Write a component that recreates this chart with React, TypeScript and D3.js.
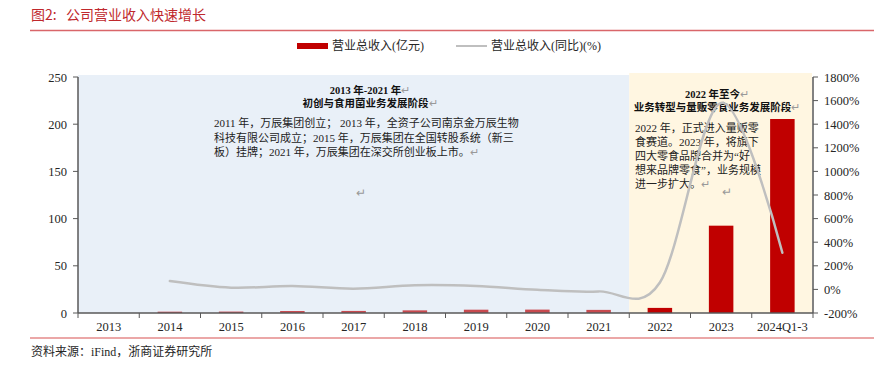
import React from "react";
import * as d3 from "d3";

const categories = ["2013", "2014", "2015", "2016", "2017", "2018", "2019", "2020", "2021", "2022", "2023", "2024Q1-3"];
const revenue = [0, 1.4, 1.5, 2.1, 2.2, 2.8, 3.5, 3.6, 3.3, 5.4, 92.5, 205.5];
const growth: (number | null)[] = [null, 71, 15, 29, 6, 35, 29, -3, -17, 58, 1580, 311];
const leftTicks = [0, 50, 100, 150, 200, 250];
const rightTicks = [-200, 0, 200, 400, 600, 800, 1000, 1200, 1400, 1600, 1800];

const blueTitle = ["2013 年-2021 年", "初创与食用菌业务发展阶段"];
const blueBody = [
  "2011 年，万辰集团创立； 2013 年，全资子公司南京金万辰生物",
  "科技有限公司成立；2015 年，万辰集团在全国转股系统（新三",
  "板）挂牌；2021 年，万辰集团在深交所创业板上市。",
];
const yellowTitle = ["2022 年至今", "业务转型与量贩零食业务发展阶段"];
const yellowBody = [
  "2022 年，正式进入量贩零",
  "食赛道。2023 年，将旗下",
  "四大零食品牌合并为“好",
  "想来品牌零食”，业务规模",
  "进一步扩大。",
];

const FONT = "'Liberation Serif', 'Noto Sans CJK SC', serif";
const RET = "↵";

export default function App() {
  const W = 874, H = 365;
  const x0 = 78, x1 = 813, yTop = 77, yBot = 313;
  const x = d3.scaleBand().domain(categories).range([x0, x1]).padding(0);
  const yL = d3.scaleLinear().domain([0, 250]).range([yBot, yTop]);
  const yR = d3.scaleLinear().domain([-200, 1800]).range([yBot, yTop]);
  const bw = x.bandwidth() * 0.4;
  const cx = (c: string) => (x(c) as number) + x.bandwidth() / 2;
  const splitX = x("2022") as number;

  const pts = categories
    .map((c, i) => ({ c, v: growth[i] }))
    .filter((d) => d.v !== null) as { c: string; v: number }[];
  const line = d3
    .line<{ c: string; v: number }>()
    .x((d) => cx(d.c))
    .y((d) => yR(d.v))
    .curve(d3.curveCardinal.tension(0));

  const axisColor = "#595959";
  const textColor = "#262626";

  return (
    <div style={{ position: "absolute", left: 0, top: 0 }}>
      <svg width={W} height={H} style={{ display: "block", background: "#fff" }} fontFamily={FONT}>
        {/* title */}
        <text x={31} y={20} fontSize={14} fill="#C0282D" fontFamily="'Noto Sans CJK SC', sans-serif">
          图2:{"\u00a0\u00a0\u00a0"}公司营业收入快速增长
        </text>
        <line x1={30} x2={874} y1={30.5} y2={30.5} stroke="#D9666A" strokeWidth={1.5} />

        {/* legend */}
        <rect x={297} y={43} width={31} height={6} fill="#C00000" />
        <text x={332} y={50} fontSize={12} fill={textColor}>营业总收入(亿元)</text>
        <line x1={456} x2={487} y1={46} y2={46} stroke="#BFBFBF" strokeWidth={2} />
        <text x={491} y={50} fontSize={12} fill={textColor}>营业总收入(同比)(%)</text>

        {/* backgrounds */}
        <rect x={x0} y={75} width={splitX - x0} height={yBot - 75} fill="#E9F0F8" />
        <rect x={splitX} y={73} width={x1 - 1 - splitX} height={yBot - 73} fill="#FFF6E1" />

        {/* bars */}
        {categories.map((c, i) =>
          revenue[i] > 0 ? (
            <rect
              key={c}
              x={cx(c) - bw / 2}
              y={yL(revenue[i])}
              width={bw}
              height={yBot - yL(revenue[i])}
              fill={i < 9 ? "#C84A4F" : "#C00000"}
            />
          ) : null
        )}

        {/* blue annotation */}
        {blueTitle.map((t, i) => (
          <text key={t} x={370} y={94 + i * 13} fontSize={10.5} fontWeight="bold" textAnchor="middle" fill="#111">
            {t}
            <tspan fill="#999" fontWeight="normal">{RET}</tspan>
          </text>
        ))}
        {blueBody.map((t, i) => (
          <text key={t} x={214} y={127 + i * 14.5} fontSize={11} fill="#222">
            {t}
            {i === blueBody.length - 1 ? <tspan fill="#999">{RET}</tspan> : null}
          </text>
        ))}
        <text x={356} y={197} fontSize={12} fill="#999">{RET}</text>

        {/* yellow annotation */}
        {yellowTitle.map((t, i) => (
          <text key={t} x={717} y={98 + i * 12.5} fontSize={10.5} fontWeight="bold" textAnchor="middle" fill="#111">
            {t}
            <tspan fill="#999" fontWeight="normal">{RET}</tspan>
          </text>
        ))}
        {yellowBody.map((t, i) => (
          <text key={t} x={635} y={132 + i * 14} fontSize={11} fill="#222">
            {t}
            {i === yellowBody.length - 1 ? <tspan fill="#999">{RET}</tspan> : null}
          </text>
        ))}
        <text x={722} y={196} fontSize={12} fill="#999">{RET}</text>

        {/* growth line */}
        <path d={line(pts) || ""} fill="none" stroke="#BFBFBF" strokeWidth={2.5} strokeLinecap="round" />

        {/* left axis */}
        <line x1={x0} x2={x0} y1={yTop} y2={yBot} stroke={axisColor} strokeWidth={1.5} />
        {leftTicks.map((t) => (
          <g key={t}>
            <line x1={x0 - 5} x2={x0} y1={yL(t)} y2={yL(t)} stroke={axisColor} strokeWidth={1} />
            <text x={67} y={yL(t) + 4.5} fontSize={12.5} textAnchor="end" fill={textColor}>{t}</text>
          </g>
        ))}

        {/* right axis */}
        <line x1={x1} x2={x1} y1={yTop} y2={yBot} stroke={axisColor} strokeWidth={1.5} />
        {rightTicks.map((t) => (
          <g key={t}>
            <line x1={x1} x2={x1 + 5} y1={yR(t)} y2={yR(t)} stroke={axisColor} strokeWidth={1} />
            <text x={824} y={yR(t) + 4.5} fontSize={12.5} fill={textColor}>{t}%</text>
          </g>
        ))}

        {/* bottom axis */}
        <line x1={x0} x2={x1} y1={yBot} y2={yBot} stroke={axisColor} strokeWidth={1.5} />
        {categories.map((c) => (
          <g key={c}>
            <line x1={x(c) as number} x2={x(c) as number} y1={yBot} y2={yBot + 5} stroke={axisColor} strokeWidth={1} />
            <text x={cx(c)} y={331} fontSize={12.5} textAnchor="middle" fill={textColor}>{c}</text>
          </g>
        ))}
        <line x1={x1} x2={x1} y1={yBot} y2={yBot + 5} stroke={axisColor} strokeWidth={1} />

        {/* footer */}
        <line x1={30} x2={874} y1={338} y2={338} stroke="#E58A8A" strokeWidth={1.5} />
        <text x={31} y={356} fontSize={12} fill={textColor}>资料来源：iFind，浙商证券研究所</text>
      </svg>
    </div>
  );
}
